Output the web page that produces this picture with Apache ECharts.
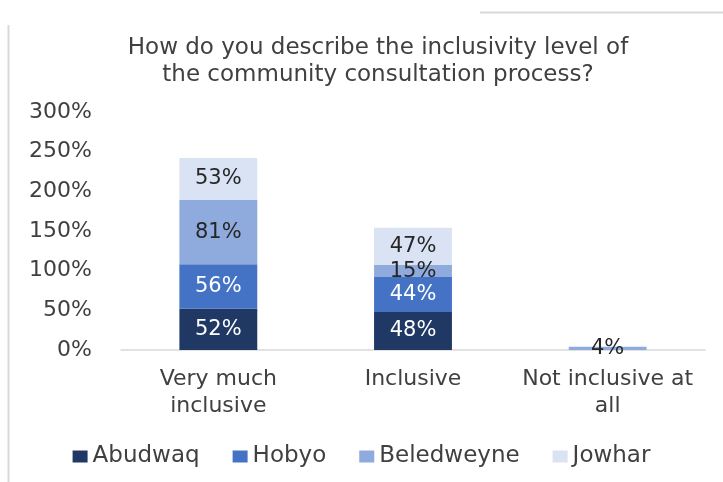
<!DOCTYPE html>
<html>
<head>
<meta charset="utf-8">
<script src="https://cdn.jsdelivr.net/npm/echarts@6/dist/echarts.min.js"></script>
<style>
  html, body { margin: 0; padding: 0; background: #fff; }
  #chart { width: 723px; height: 482px; }
</style>
</head>
<body>
<div id="chart"></div>
<script>
// Survey responses by district (percent)
const categories = ['Very much\ninclusive', 'Inclusive', 'Not inclusive at\nall'];
const abudwaq = [52, 48, null];
const hobyo = [56, 44, null];
const beledweyne = [81, 15, 4];
const jowhar = [53, 47, null];
const yTicks = [0, 50, 100, 150, 200, 250, 300];

const FONT = '"DejaVu Sans", Verdana, sans-serif';
const TEXT = '#404040';
const DARK = '#262626';

const seriesDefs = [
  { name: 'Abudwaq', data: abudwaq, color: '#1F3864', label: '#FFFFFF' },
  { name: 'Hobyo', data: hobyo, color: '#4472C4', label: '#FFFFFF' },
  { name: 'Beledweyne', data: beledweyne, color: '#8FAADC', label: DARK },
  { name: 'Jowhar', data: jowhar, color: '#DAE3F3', label: DARK }
];

const chart = echarts.init(document.getElementById('chart'));
chart.setOption({
  animation: false,
  title: {
    text: 'How do you describe the inclusivity level of\nthe community consultation process?',
    left: 373,
    textAlign: 'center',
    top: 30,
    textStyle: { fontFamily: FONT, fontSize: 23, fontWeight: 'normal', color: TEXT, lineHeight: 27 }
  },
  legend: {
    top: 440,
    left: 'center',
    itemGap: 33,
    itemWidth: 15,
    itemHeight: 12,
    icon: 'rect',
    textStyle: { fontFamily: FONT, fontSize: 23, color: TEXT },
    data: seriesDefs.map(s => s.name)
  },
  grid: { left: 121, right: 18, top: 112, bottom: 132 },
  xAxis: {
    type: 'category',
    data: categories,
    axisLine: { lineStyle: { color: '#D9D9D9', width: 1.5 } },
    axisTick: { show: false },
    axisLabel: { interval: 0, fontFamily: FONT, fontSize: 22, color: TEXT, lineHeight: 27, margin: 16 }
  },
  yAxis: {
    type: 'value',
    min: yTicks[0],
    max: yTicks[yTicks.length - 1],
    interval: yTicks[1] - yTicks[0],
    splitLine: { show: false },
    axisLine: { show: false },
    axisTick: { show: false },
    axisLabel: { fontFamily: FONT, fontSize: 22, color: TEXT, margin: 29, formatter: v => v + '%' }
  },
  series: seriesDefs.map(s => ({
    name: s.name,
    type: 'bar',
    stack: 'total',
    barWidth: '40%',
    data: s.data,
    itemStyle: { color: s.color },
    label: {
      show: true,
      position: 'inside',
      fontFamily: FONT,
      fontSize: 21,
      color: s.label,
      formatter: p => (p.value == null ? '' : p.value + '%')
    }
  })),
  graphic: [
    { type: 'line', shape: { x1: 8.5, y1: 25, x2: 8.5, y2: 482 }, style: { stroke: '#D9D9D9', lineWidth: 2 } },
    { type: 'line', shape: { x1: 480, y1: 12.5, x2: 723, y2: 12.5 }, style: { stroke: '#D9D9D9', lineWidth: 2 } }
  ]
});
</script>
</body>
</html>
